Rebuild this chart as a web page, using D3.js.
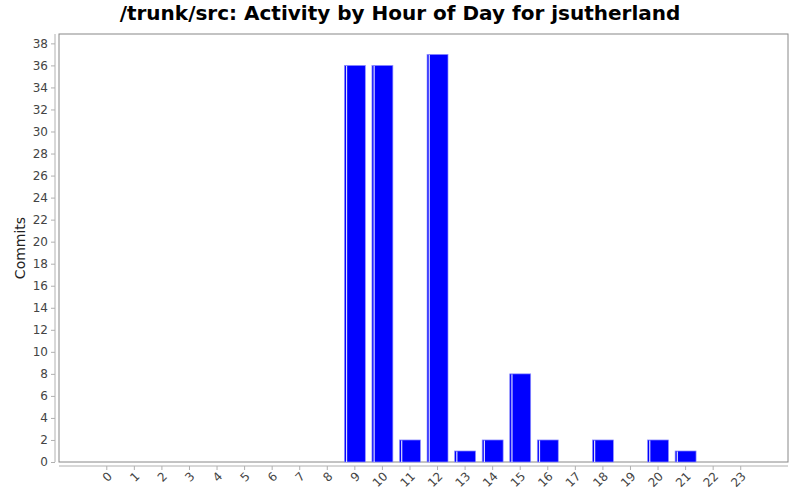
<!DOCTYPE html>
<html>
<head>
<meta charset="utf-8">
<script src="https://cdn.jsdelivr.net/npm/d3@7"></script>
<style>
  body { margin: 0; background: #fff; }
  svg { font-family: "DejaVu Sans", sans-serif; }
</style>
</head>
<body>
<svg width="800" height="500"></svg>
<script>
var hours = ['0','1','2','3','4','5','6','7','8','9','10','11','12','13','14','15','16','17','18','19','20','21','22','23'];
var commits = [0,0,0,0,0,0,0,0,0,36,36,2,37,1,2,8,2,0,2,0,2,1,0,0];
var yTicks = d3.range(0, 39, 2);

var svg = d3.select('svg');
var plot = {left: 59, right: 788, top: 34, bottom: 462};

var x = d3.scaleBand()
    .domain(hours)
    .range([plot.left + 34, plot.right - 33.5])
    .paddingInner(0.24)
    .paddingOuter(0.12);

var y = d3.scaleLinear()
    .domain([0, d3.max(commits) * 1.05])
    .range([plot.bottom, plot.top]);

// title
svg.append('text')
    .attr('x', 400).attr('y', 20)
    .attr('text-anchor', 'middle')
    .attr('font-size', 20).attr('font-weight', 'bold')
    .attr('fill', '#000')
    .text('/trunk/src: Activity by Hour of Day for jsutherland');

// plot background + border
svg.append('rect')
    .attr('x', plot.left).attr('y', plot.top)
    .attr('width', plot.right - plot.left).attr('height', plot.bottom - plot.top)
    .attr('fill', '#fff').attr('stroke', '#888').attr('stroke-width', 1);

// bars
var rows = hours.map(function(h, i){ return {hour: h, value: commits[i]}; })
    .filter(function(d){ return d.value > 0; });

var bars = svg.append('g').selectAll('g')
    .data(rows)
  .enter().append('g');

bars.append('rect')
    .attr('x', function(d){ return x(d.hour); })
    .attr('y', function(d){ return y(d.value); })
    .attr('width', x.bandwidth())
    .attr('height', function(d){ return plot.bottom - y(d.value); })
    .attr('fill', '#0000ff')
    .attr('stroke', '#9090ff').attr('stroke-width', 0.7);

bars.append('rect')
    .attr('x', function(d){ return x(d.hour) + 1.6; })
    .attr('y', function(d){ return y(d.value) + 0.5; })
    .attr('width', 1.2)
    .attr('height', function(d){ return plot.bottom - y(d.value) - 0.5; })
    .attr('fill', '#dcdcff');

// y axis
var yAxis = d3.axisLeft(y).tickValues(yTicks).tickSize(4).tickPadding(3);
var gy = svg.append('g')
    .attr('transform', 'translate(' + (plot.left - 4) + ',0)')
    .call(yAxis);
gy.select('.domain').attr('d', 'M0,' + plot.top + 'V' + plot.bottom).attr('stroke', '#b0b0b0');
gy.selectAll('.tick line').attr('stroke', '#b0b0b0');
gy.selectAll('.tick text').attr('font-size', 12).attr('fill', '#444')
    .attr('font-family', '"DejaVu Sans", sans-serif');

// x axis
var xAxis = d3.axisBottom(x).tickSize(4).tickPadding(3);
var gx = svg.append('g')
    .attr('transform', 'translate(0,' + (plot.bottom + 4) + ')')
    .call(xAxis);
gx.select('.domain').attr('d', 'M' + plot.left + ',0H' + plot.right).attr('stroke', '#b0b0b0');
gx.selectAll('.tick line').attr('stroke', '#b0b0b0');
gx.selectAll('.tick text')
    .attr('font-size', 12).attr('fill', '#444')
    .attr('font-family', '"DejaVu Sans", sans-serif')
    .attr('text-anchor', 'end')
    .attr('dy', null)
    .attr('y', 0)
    .attr('transform', 'translate(6,11) rotate(-45)');

// y label
svg.append('text')
    .attr('transform', 'translate(25,' + ((plot.top + plot.bottom) / 2) + ') rotate(-90)')
    .attr('text-anchor', 'middle')
    .attr('font-size', 14)
    .attr('fill', '#222')
    .text('Commits');
</script>
</body>
</html>
